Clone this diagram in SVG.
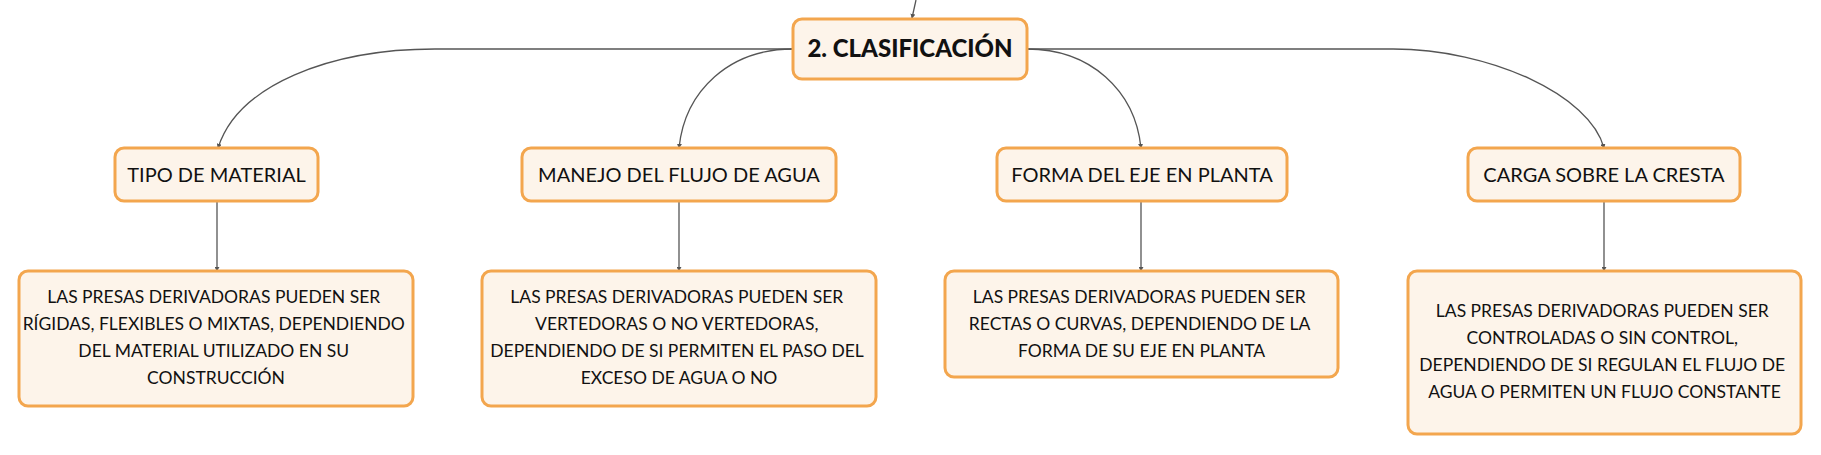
<svg xmlns="http://www.w3.org/2000/svg" width="1821" height="455" viewBox="0 0 1821 455">
<style>
.box{fill:#FDF4EA;stroke:#F3A64E;stroke-width:3}
.t{font-family:Lato,"Open Sans","Liberation Sans",sans-serif;fill:#111;text-anchor:middle}
.h{font-size:20px}
.b{font-size:17.5px}
.title{font-size:24px;font-weight:900}
.c{fill:none;stroke:#555;stroke-width:1.3;marker-end:url(#ah)}
</style>
<defs>
<marker id="ah" viewBox="0 0 6 6" refX="5" refY="3" markerWidth="5" markerHeight="5" orient="auto" markerUnits="userSpaceOnUse">
<path d="M0,0 L6,3 L0,6 z" fill="#555"/>
</marker>
</defs>
<rect width="1821" height="455" fill="#fff"/>
<g id="connectors">
<path class="c" d="M916,0 L912,18"/>
<path class="c" d="M793,49 L435,49 C330,49 238,85 218,148"/>
<path class="c" d="M793,49 C730,49 685,90 679,148"/>
<path class="c" d="M1027,49 C1090,49 1135,90 1141,148"/>
<path class="c" d="M1027,49 L1393,49 C1490,49 1590,95 1604,148"/>
<path class="c" d="M217,201 L217,271"/>
<path class="c" d="M679,201 L679,271"/>
<path class="c" d="M1141,201 L1141,271"/>
<path class="c" d="M1604,201 L1604,271"/>
</g>
<g id="central">
<rect class="box" x="793" y="19" width="234" height="60" rx="9"/>
<text class="t title" x="910" y="57">2. CLASIFICACIÓN</text>
</g>
<g id="tipo">
<rect class="box" x="115" y="148" width="203" height="53" rx="9"/>
<text class="t h" x="216.5" y="182">TIPO DE MATERIAL</text>
</g>
<g id="manejo">
<rect class="box" x="522" y="148" width="314" height="53" rx="9"/>
<text class="t h" x="679" y="182">MANEJO DEL FLUJO DE AGUA</text>
</g>
<g id="forma">
<rect class="box" x="997" y="148" width="290" height="53" rx="9"/>
<text class="t h" x="1142" y="182">FORMA DEL EJE EN PLANTA</text>
</g>
<g id="carga">
<rect class="box" x="1468" y="148" width="272" height="53" rx="9"/>
<text class="t h" x="1604" y="182">CARGA SOBRE LA CRESTA</text>
</g>
<g id="desc-tipo">
<rect class="box" x="19" y="271" width="394" height="135" rx="9"/>
<text class="t b" x="216">
<tspan x="216" y="303">LAS PRESAS DERIVADORAS PUEDEN SER</tspan>
<tspan x="216" y="330">RÍGIDAS, FLEXIBLES O MIXTAS, DEPENDIENDO</tspan>
<tspan x="216" y="357">DEL MATERIAL UTILIZADO EN SU</tspan>
<tspan x="216" y="384">CONSTRUCCIÓN</tspan>
</text>
</g>
<g id="desc-manejo">
<rect class="box" x="482" y="271" width="394" height="135" rx="9"/>
<text class="t b" x="679">
<tspan x="679" y="303">LAS PRESAS DERIVADORAS PUEDEN SER</tspan>
<tspan x="679" y="330">VERTEDORAS O NO VERTEDORAS,</tspan>
<tspan x="679" y="357">DEPENDIENDO DE SI PERMITEN EL PASO DEL</tspan>
<tspan x="679" y="384">EXCESO DE AGUA O NO</tspan>
</text>
</g>
<g id="desc-forma">
<rect class="box" x="945" y="271" width="393" height="106" rx="9"/>
<text class="t b" x="1141.5">
<tspan x="1141.5" y="303">LAS PRESAS DERIVADORAS PUEDEN SER</tspan>
<tspan x="1141.5" y="330">RECTAS O CURVAS, DEPENDIENDO DE LA</tspan>
<tspan x="1141.5" y="357">FORMA DE SU EJE EN PLANTA</tspan>
</text>
</g>
<g id="desc-carga">
<rect class="box" x="1408" y="271" width="393" height="163" rx="9"/>
<text class="t b" x="1604.5">
<tspan x="1604.5" y="317">LAS PRESAS DERIVADORAS PUEDEN SER</tspan>
<tspan x="1604.5" y="344">CONTROLADAS O SIN CONTROL,</tspan>
<tspan x="1604.5" y="371">DEPENDIENDO DE SI REGULAN EL FLUJO DE</tspan>
<tspan x="1604.5" y="398">AGUA O PERMITEN UN FLUJO CONSTANTE</tspan>
</text>
</g>
</svg>
